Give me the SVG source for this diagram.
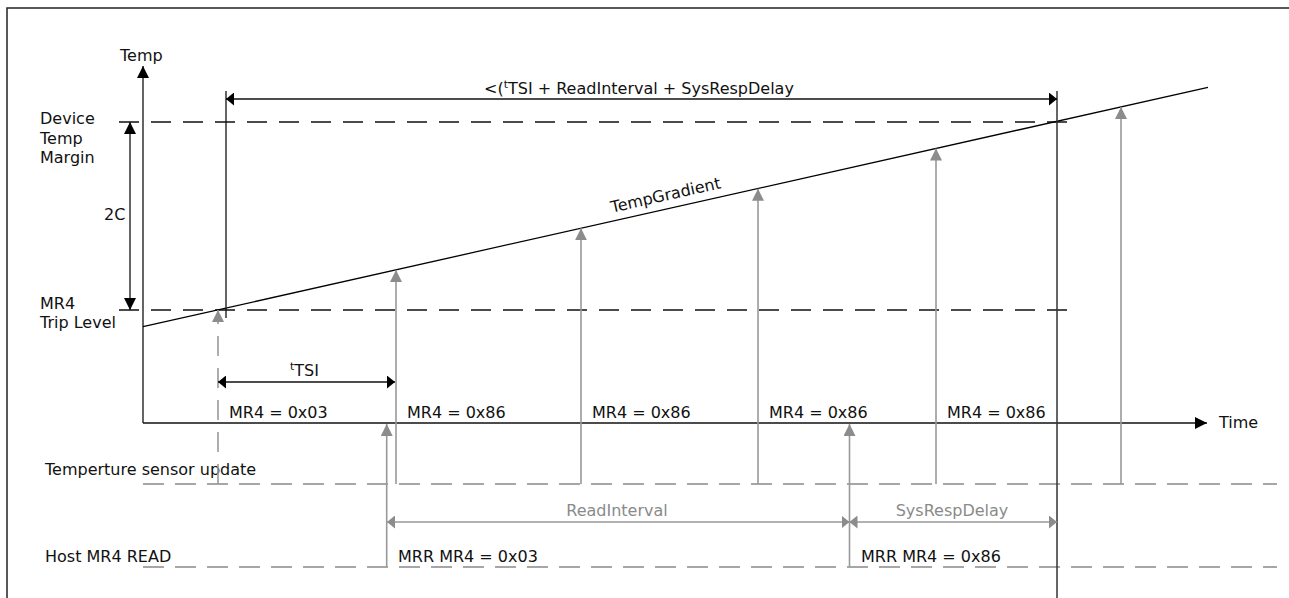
<svg xmlns="http://www.w3.org/2000/svg" width="1289" height="598" viewBox="0 0 1289 598">
<style>
text{font-family:"DejaVu Sans","Liberation Sans",sans-serif;font-size:16px;fill:#111}
text.gt{fill:#8a8a8a}
.k{stroke:#111;stroke-width:1.3;fill:none}
.kd{stroke:#111;stroke-width:1.3;fill:none;stroke-dasharray:20 12}
.g{stroke:#999;stroke-width:1.6;fill:none}
.gd{stroke:#a6a6a6;stroke-width:2;fill:none;stroke-dasharray:21 11}
</style>
<defs>
<marker id="ka" markerUnits="userSpaceOnUse" markerWidth="12" markerHeight="12" refX="12" refY="6" orient="auto-start-reverse"><path d="M0,0 L12,6 L0,12 Z" fill="#000"/></marker>
<marker id="kd" markerUnits="userSpaceOnUse" markerWidth="8" markerHeight="13" refX="8" refY="6.5" orient="auto-start-reverse"><path d="M0,0 L8,6.5 L0,13 Z" fill="#000"/></marker>
<marker id="ga" markerUnits="userSpaceOnUse" markerWidth="12" markerHeight="12" refX="12" refY="6" orient="auto-start-reverse"><path d="M0,0 L12,6 L0,12 Z" fill="#8c8c8c"/></marker>
<marker id="gd" markerUnits="userSpaceOnUse" markerWidth="8" markerHeight="13" refX="8" refY="6.5" orient="auto-start-reverse"><path d="M0,0 L8,6.5 L0,13 Z" fill="#8c8c8c"/></marker>
</defs>
<rect width="1289" height="598" fill="#fff"/>
<g id="frame"><path d="M7,598 V8 H1289" stroke="#222" stroke-width="1.5" fill="none"/></g>

<g id="axes">
<line class="k" x1="143" y1="423" x2="143" y2="66" marker-end="url(#ka)"/>
<line class="k" x1="143" y1="423" x2="1207" y2="423" marker-end="url(#ka)"/>
<text x="120" y="61">Temp</text>
<text x="1219" y="428">Time</text>
</g>

<g id="levels">
<line class="kd" x1="119" y1="122" x2="1068" y2="122"/>
<line class="kd" x1="119" y1="310" x2="1068" y2="310"/>
<text x="40" y="124">Device</text>
<text x="40" y="143.5">Temp</text>
<text x="40" y="163">Margin</text>
<text x="40" y="309">MR4</text>
<text x="40" y="328">Trip Level</text>
<line class="k" x1="130" y1="122" x2="130" y2="310" marker-start="url(#ka)" marker-end="url(#ka)"/>
<text x="104" y="220">2C</text>
</g>

<g id="gradient">
<line x1="143" y1="326.7" x2="1208" y2="87.3" stroke="#000" stroke-width="1.3"/>
<text transform="translate(612,212.7) rotate(-12.66)" x="0" y="0">TempGradient</text>
</g>

<g id="lanes">
<line class="gd" x1="143" y1="484" x2="1277" y2="484"/>
<line class="gd" x1="143" y1="567" x2="1277" y2="567"/>
<text x="45" y="475">Temperture sensor update</text>
<text x="45" y="562">Host MR4 READ</text>
</g>

<g id="connectors">
<line x1="218" y1="484" x2="218" y2="310" stroke="#999" stroke-width="1.6" stroke-dasharray="20 12" marker-end="url(#ga)"/>
<line class="g" x1="396" y1="484" x2="396" y2="270" marker-end="url(#ga)"/>
<line class="g" x1="581" y1="484" x2="581" y2="228.3" marker-end="url(#ga)"/>
<line class="g" x1="758" y1="484" x2="758" y2="188.7" marker-end="url(#ga)"/>
<line class="g" x1="936" y1="484" x2="936" y2="148.5" marker-end="url(#ga)"/>
<line class="g" x1="1121" y1="484" x2="1121" y2="107" marker-end="url(#ga)"/>
<line class="g" x1="386.7" y1="567" x2="386.7" y2="424" marker-end="url(#ga)"/>
<line class="g" x1="849.5" y1="567" x2="849.5" y2="424" marker-end="url(#ga)"/>
</g>

<g id="dimensions">
<line class="k" x1="226" y1="91" x2="226" y2="318"/>
<line x1="1057" y1="91" x2="1057" y2="598" stroke="#333" stroke-width="1.5"/>
<line class="k" x1="226" y1="99" x2="1057" y2="99" marker-start="url(#kd)" marker-end="url(#kd)"/>
<text x="484" y="94">&lt;(<tspan font-size="11" dy="-6">t</tspan><tspan dy="6">TSI + ReadInterval + SysRespDelay</tspan></text>
<line class="k" x1="218" y1="382" x2="395" y2="382" marker-start="url(#kd)" marker-end="url(#kd)"/>
<text x="290" y="376"><tspan font-size="11" dy="-6">t</tspan><tspan dy="6">TSI</tspan></text>
<line class="g" x1="387" y1="522" x2="849.5" y2="522" marker-start="url(#gd)" marker-end="url(#gd)"/>
<text class="gt" x="617" y="516" text-anchor="middle">ReadInterval</text>
<line class="g" x1="849.5" y1="522" x2="1057" y2="522" marker-start="url(#gd)" marker-end="url(#gd)"/>
<text class="gt" x="952" y="516" text-anchor="middle">SysRespDelay</text>
</g>

<g id="values">
<text x="229" y="418">MR4 = 0x03</text>
<text x="407" y="418">MR4 = 0x86</text>
<text x="592" y="418">MR4 = 0x86</text>
<text x="769" y="418">MR4 = 0x86</text>
<text x="947" y="418">MR4 = 0x86</text>
<text x="398" y="562">MRR MR4 = 0x03</text>
<text x="861" y="562">MRR MR4 = 0x86</text>
</g>
</svg>
